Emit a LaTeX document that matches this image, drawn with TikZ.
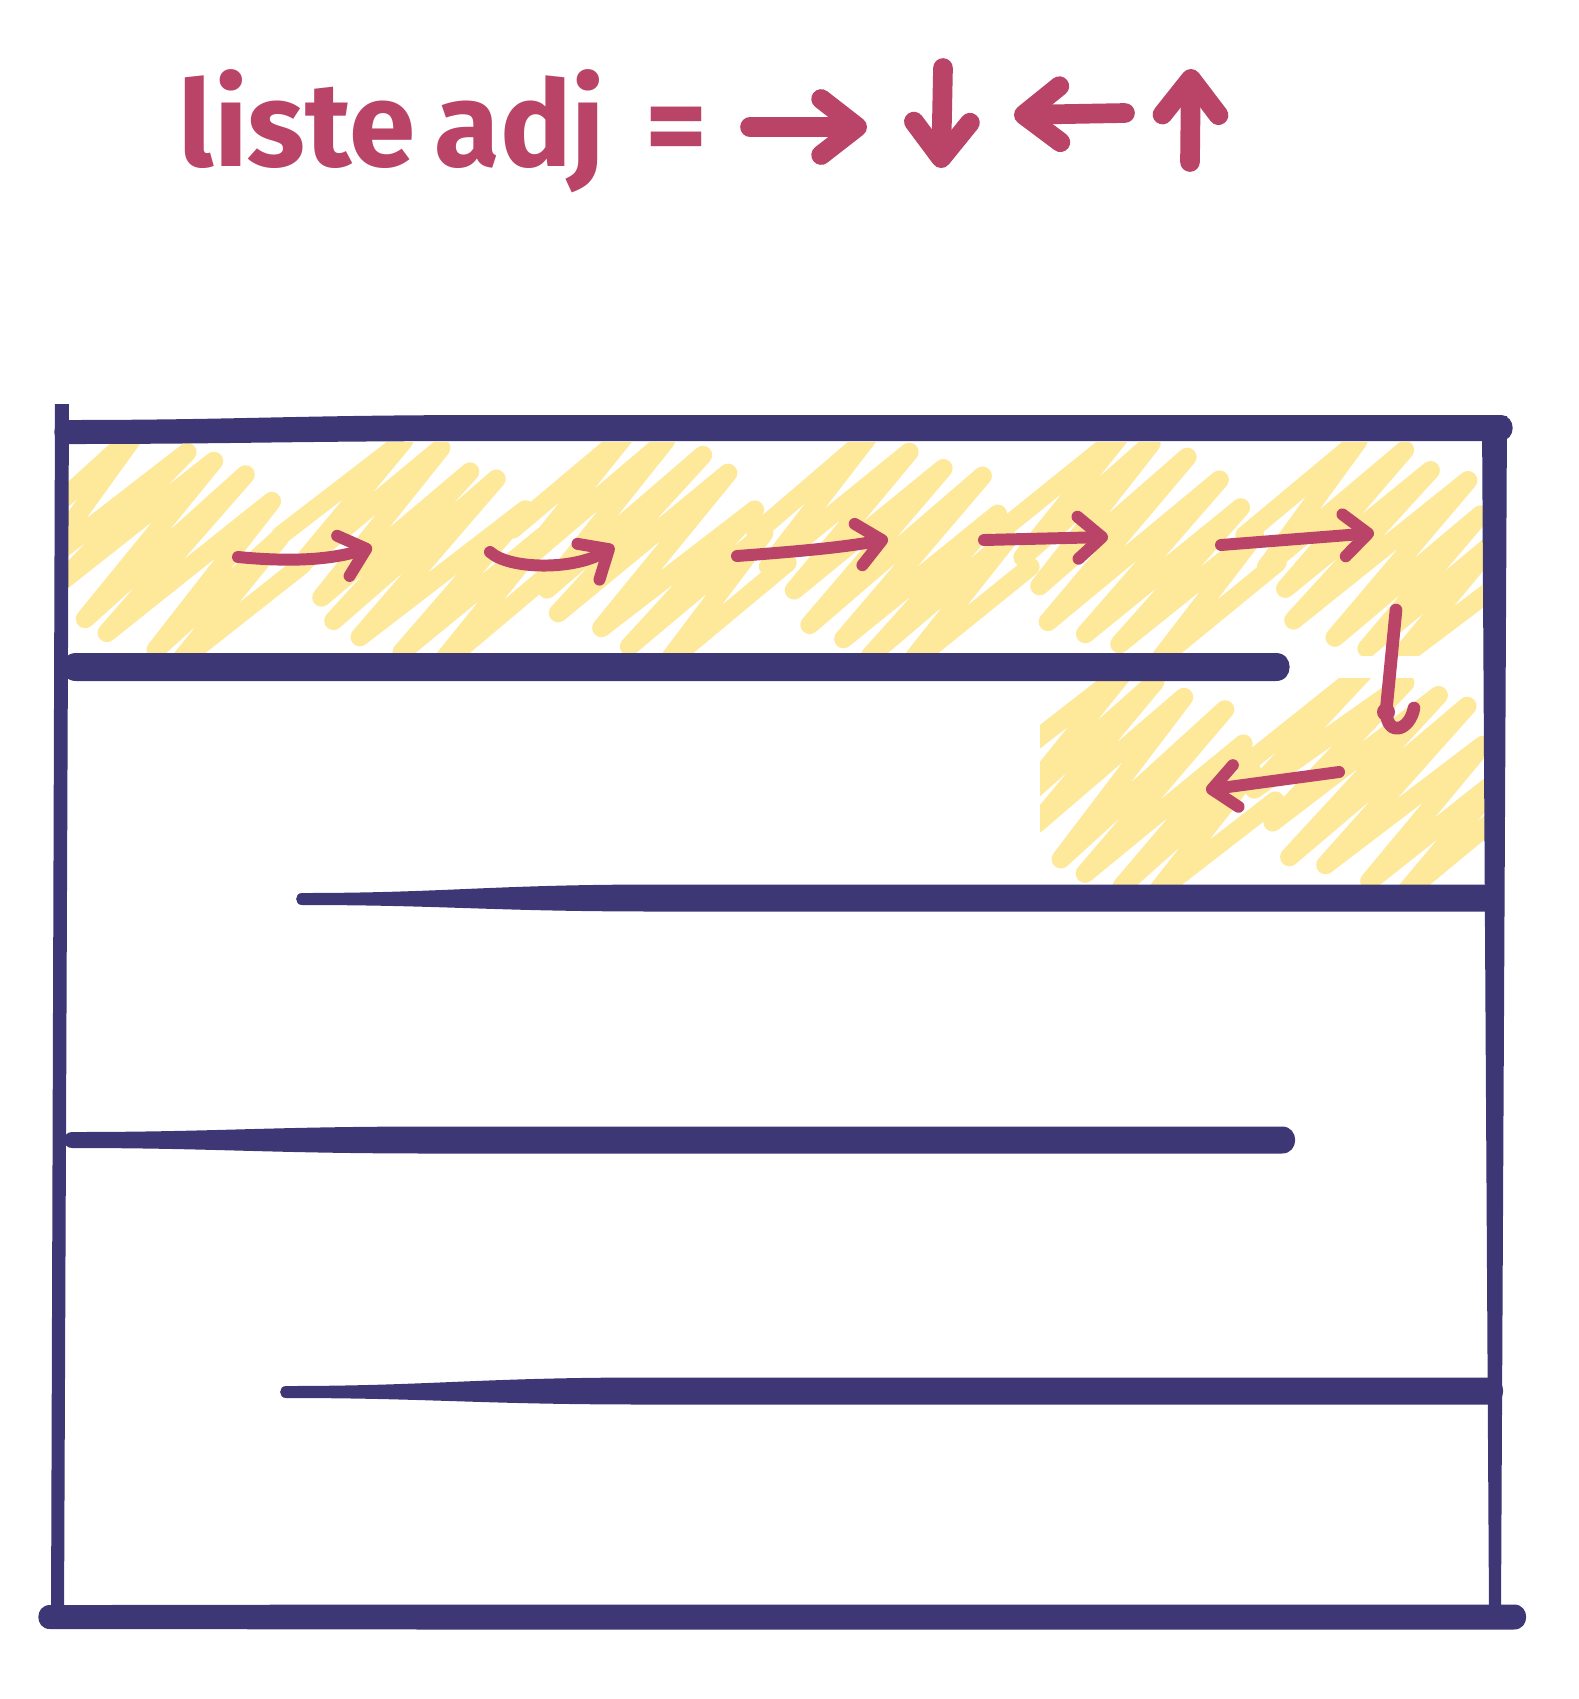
\documentclass[tikz,border=0pt]{standalone}
\usepackage{fontspec}
\newfontfamily\hand{Fira Sans}
\usetikzlibrary{arrows.meta}
\definecolor{navy}{HTML}{3D3875}
\definecolor{crim}{HTML}{BA4468}
\definecolor{scrib}{HTML}{FEE899}
% tapered wall: x1,y1,half1,x2,y2,half2 (taper only near the left end)
\newcommand\mzwall[6]{\fill[navy] (#1,#2-#3)
  .. controls ({#1+0.12*(#4-#1)},#2-#3) and ({#1+0.16*(#4-#1)},#5-#6) .. ({#1+0.3*(#4-#1)},#5-#6)
  -- (#4,#5-#6)
  .. controls ({#4+1.3*#6},#5-#6) and ({#4+1.3*#6},#5+#6) .. (#4,#5+#6)
  -- ({#1+0.3*(#4-#1)},#5+#6)
  .. controls ({#1+0.16*(#4-#1)},#5+#6) and ({#1+0.12*(#4-#1)},#2+#3) .. (#1,#2+#3)
  .. controls ({#1-1.3*#3},#2+#3) and ({#1-1.3*#3},#2-#3) .. cycle;}
% scribble cluster centred at (#1,#2)
\newcommand\scribcl[2]{\draw[scribble] ({#1-78-0.385*154},{#2-66+0.32*154})
  \foreach \k in {-3,...,2}{
    -- ({#1+26*(\k)+0.385*(220-22*abs(\k))+8*rand},{#2+22*(\k)-0.32*(220-22*abs(\k))+6*rand})
    -- ({#1+26*(\k+1)-0.385*(220-22*abs(\k+1))+8*rand},{#2+22*(\k+1)+0.32*(220-22*abs(\k+1))+6*rand}) }
  -- ({#1+78+0.385*154},{#2+66-0.32*154});}
\begin{document}
\begin{tikzpicture}[x=0.01cm,y=-0.01cm,line cap=round,line join=round,
  arr/.style={crim,line width=3.4pt,-{Straight Barb[length=2.4mm,width=4.2mm,round]}},
  tarr/.style={crim,line width=5.6pt,-{Straight Barb[length=3.6mm,width=5.6mm,round]}},
  scribble/.style={scrib,line width=5.3pt},
  title/.style={anchor=base west,inner sep=0pt,crim,font=\hand\bfseries\fontsize{34}{40}\selectfont}]
\useasboundingbox (0,0) rectangle (1579,1699);
\fill[white] (0,0) rectangle (1579,1699);
\pgfmathsetseed{23}
% yellow scribbles
\begin{scope}
\clip (68,442) rectangle (1486,655);
\foreach \cx/\cy in {165/548,418/552,650/546,893/550,1140/546,1382/552}{\scribcl{\cx}{\cy}}
\end{scope}
\begin{scope}
\clip (1040,678) rectangle (1486,886);
\foreach \cx/\cy in {1138/784,1382/782}{\scribcl{\cx}{\cy}}
\end{scope}
% maze walls
\fill[navy] (55,404) -- (69,404) -- (64,1622) -- (51,1622) -- cycle;
\fill[navy] (1482,416) -- (1507,416) -- (1501,1612) -- (1489,1612) -- cycle;
\mzwall{66}{432}{12}{1500}{428}{13}
\mzwall{76}{667}{14}{1276}{667}{14}
\mzwall{302}{899}{6}{1490}{898}{13.5}
\mzwall{72}{1140}{8}{1282}{1140}{13.5}
\mzwall{286}{1392}{6}{1490}{1391}{13.5}
\mzwall{50}{1617}{12}{1514}{1617}{12.5}
% path arrows in the maze
\draw[arr] (238,557) .. controls (290,562) and (330,560) .. (372,547);
\draw[arr] (490,552) .. controls (510,570) and (575,570) .. (614,546);
\draw[arr] (737,556) .. controls (790,552) and (840,548) .. (888,539);
\draw[arr] (984,540) -- (1108,537);
\draw[arr] (1221,545) -- (1374,533);
\draw[crim,line width=3.6pt] (1396,610) -- (1386,712) .. controls (1388,738) and (1410,730) .. (1414,708);
\fill[crim] (1386,712) circle (9);
\draw[arr] (1339,772) -- (1206,790);
% title
\node[title] (t1) at (178,166) {liste};
\node[title] (t2) at (434,166) {adj};
\node[title] (t3) at (645,166) {=};
\draw[tarr] (750,127) -- (867,127);
\draw[tarr] (943,68) -- (941,168);
\draw[tarr] (1125,113) -- (1014,115);
\draw[tarr] (1190,162) -- (1191,69);
\end{tikzpicture}
\end{document}
